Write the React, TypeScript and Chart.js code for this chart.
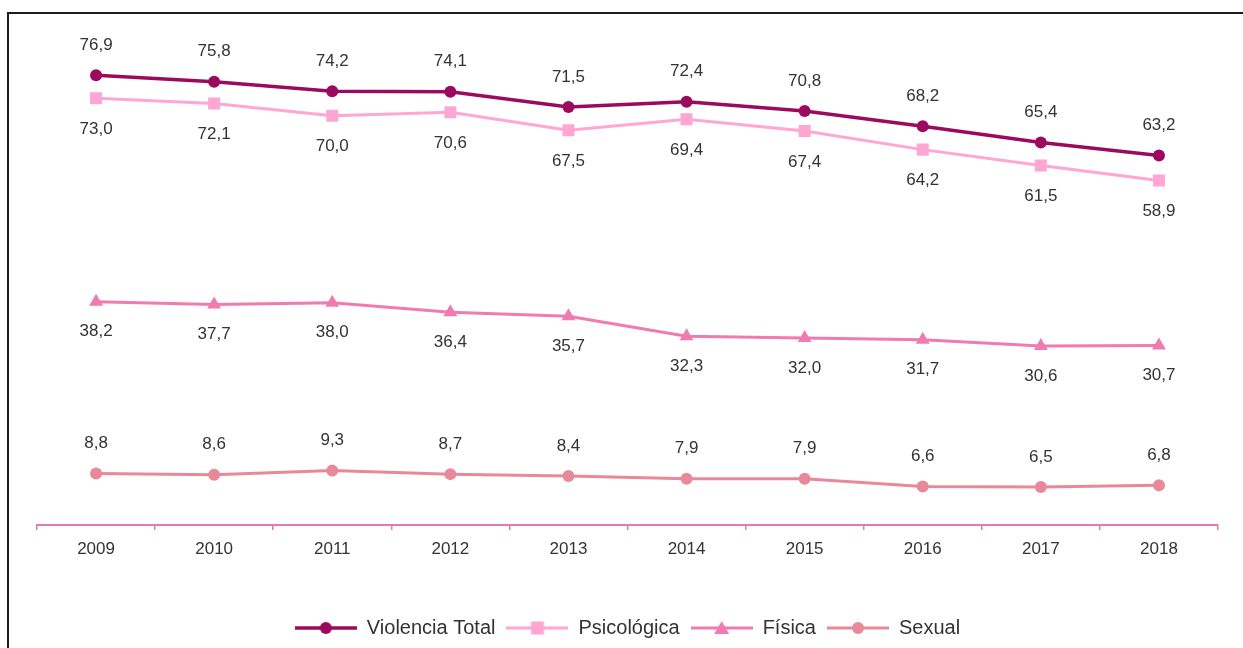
import React, { useEffect, useRef } from "react";
import { Chart, registerables } from "chart.js";

Chart.register(...registerables);

const years = ["2009", "2010", "2011", "2012", "2013", "2014", "2015", "2016", "2017", "2018"];
const violenciaTotal = [76.9, 75.8, 74.2, 74.1, 71.5, 72.4, 70.8, 68.2, 65.4, 63.2];
const psicologica = [73.0, 72.1, 70.0, 70.6, 67.5, 69.4, 67.4, 64.2, 61.5, 58.9];
const fisica = [38.2, 37.7, 38.0, 36.4, 35.7, 32.3, 32.0, 31.7, 30.6, 30.7];
const sexual = [8.8, 8.6, 9.3, 8.7, 8.4, 7.9, 7.9, 6.6, 6.5, 6.8];
const seriesNames = ["Violencia Total", "Psicológica", "Física", "Sexual"];

const COL_TOTAL = "#9c0a60";
const COL_PSI = "#ffa6d3";
const COL_FIS = "#f07bb0";
const COL_SEX = "#e8899a";
const COL_AXIS = "#e878a8";
const TEXT = "#333333";
const FONT = "'Liberation Sans', Arial, sans-serif";

function makeIcon(color: string, style: string, lw: number): HTMLCanvasElement {
  const c = document.createElement("canvas");
  c.width = 62;
  c.height = 18;
  const ctx = c.getContext("2d")!;
  ctx.strokeStyle = color;
  ctx.fillStyle = color;
  ctx.lineWidth = lw;
  ctx.beginPath();
  ctx.moveTo(0, 9);
  ctx.lineTo(62, 9);
  ctx.stroke();
  ctx.beginPath();
  if (style === "circle") {
    ctx.arc(31, 9, 6, 0, Math.PI * 2);
  } else if (style === "rect") {
    ctx.rect(24.5, 2.5, 13, 13);
  } else {
    ctx.moveTo(31, 2);
    ctx.lineTo(38.5, 15);
    ctx.lineTo(23.5, 15);
    ctx.closePath();
  }
  ctx.fill();
  return c;
}

const labelPlugin = {
  id: "valueLabels",
  afterDatasetsDraw(chart: any) {
    const ctx = chart.ctx;
    ctx.save();
    ctx.font = `17px ${FONT}`;
    ctx.fillStyle = TEXT;
    ctx.textAlign = "center";
    ctx.textBaseline = "middle";
    chart.data.datasets.forEach((ds: any, i: number) => {
      const meta = chart.getDatasetMeta(i);
      const off = ds.labelOffset as number;
      meta.data.forEach((pt: any, j: number) => {
        const v = ds.data[j] as number;
        ctx.fillText(v.toFixed(1).replace(".", ","), pt.x, pt.y + off);
      });
    });
    ctx.restore();
  },
};

export default function App() {
  const ref = useRef<HTMLCanvasElement>(null);

  useEffect(() => {
    if (!ref.current) return;
    const icons = [
      makeIcon(COL_TOTAL, "circle", 3.5),
      makeIcon(COL_PSI, "rect", 3),
      makeIcon(COL_FIS, "triangle", 3),
      makeIcon(COL_SEX, "circle", 3),
    ];
    const chart = new Chart(ref.current, {
      type: "line",
      data: {
        labels: years,
        datasets: [
          {
            label: seriesNames[0],
            data: violenciaTotal,
            borderColor: COL_TOTAL,
            backgroundColor: COL_TOTAL,
            borderWidth: 3.5,
            pointStyle: "circle",
            pointRadius: 6,
            pointBorderWidth: 0,
            labelOffset: -30,
          } as any,
          {
            label: seriesNames[1],
            data: psicologica,
            borderColor: COL_PSI,
            backgroundColor: COL_PSI,
            borderWidth: 3,
            pointStyle: "rect",
            pointRadius: 8.5,
            pointBorderWidth: 0,
            labelOffset: 31,
          } as any,
          {
            label: seriesNames[2],
            data: fisica,
            borderColor: COL_FIS,
            backgroundColor: COL_FIS,
            borderWidth: 3,
            pointStyle: "triangle",
            pointRadius: 8,
            pointBorderWidth: 0,
            labelOffset: 30,
          } as any,
          {
            label: seriesNames[3],
            data: sexual,
            borderColor: COL_SEX,
            backgroundColor: COL_SEX,
            borderWidth: 3,
            pointStyle: "circle",
            pointRadius: 6,
            pointBorderWidth: 0,
            labelOffset: -30,
          } as any,
        ],
      },
      options: {
        responsive: false,
        animation: false,
        layout: { padding: { left: 37, right: 25, top: 28, bottom: 0 } },
        scales: {
          y: { display: false, min: 0, max: 85 },
          x: {
            offset: true,
            grid: {
              offset: true,
              drawOnChartArea: false,
              drawTicks: true,
              tickLength: 5,
              color: COL_AXIS,
              lineWidth: 1.5,
            },
            border: { display: true, color: COL_AXIS, width: 2 },
            ticks: {
              color: TEXT,
              font: { family: FONT, size: 17 },
              padding: 9,
              maxRotation: 0,
            },
            afterFit: (scale: any) => {
              scale.height = 82;
            },
          },
        },
        plugins: {
          tooltip: { enabled: false },
          legend: {
            position: "bottom",
            labels: {
              color: TEXT,
              font: { family: FONT, size: 20, lineHeight: 1 },
              padding: 11,
              usePointStyle: true,
              pointStyleWidth: 62,
              boxHeight: 18,
              generateLabels: (ch: any) => {
                const items = Chart.defaults.plugins.legend.labels.generateLabels(ch);
                return items.map((it: any, i: number) => ({ ...it, pointStyle: icons[i] }));
              },
            },
          },
        },
      } as any,
      plugins: [labelPlugin],
    });
    return () => chart.destroy();
  }, []);

  return (
    <div style={{ position: "fixed", left: 0, top: 0, width: "100vw", height: "100vh", overflow: "hidden", background: "#fff" }}>
      <div
        style={{
          position: "absolute",
          left: 7,
          top: 12,
          width: 1400,
          height: 800,
          border: "2px solid #1c1c1c",
        }}
      />
      <canvas
        ref={ref}
        width={1243}
        height={648}
        style={{ position: "absolute", left: 0, top: 0, width: 1243, height: 648, display: "block" }}
      />
    </div>
  );
}
